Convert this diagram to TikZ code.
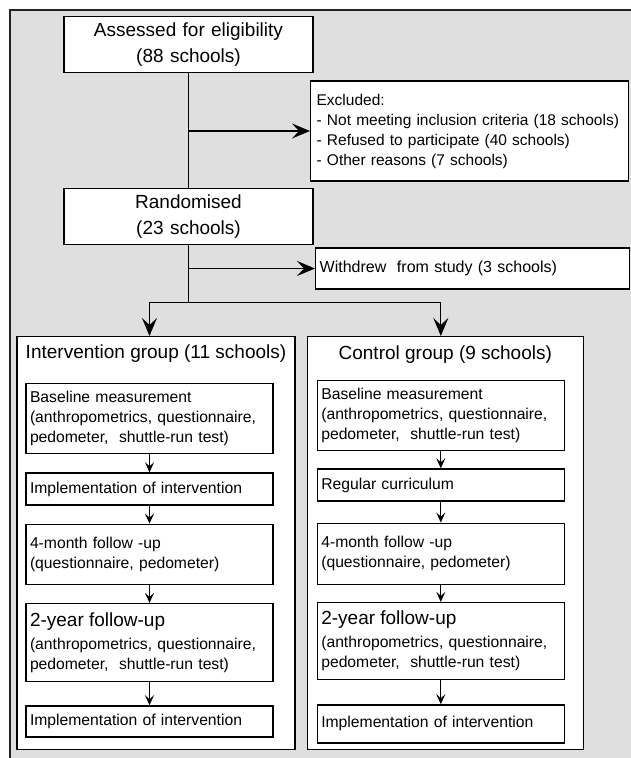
\documentclass[tikz,border=0pt]{standalone}
\usepackage{fontspec}
\setmainfont{Liberation Sans}
\usepackage{tikz}
\usetikzlibrary{arrows.meta,positioning}
\definecolor{fcPanel}{HTML}{DFDFDF}
\definecolor{fcEdge}{HTML}{222222}
\tikzset{
  flow box/.style={draw=black,line width=1.3pt,fill=white,align=center,inner xsep=4pt,inner ysep=2pt,
    text width=241pt,minimum height=56pt,font=\fontsize{19}{25.5}\selectfont},
  note box/.style={flow box,align=left,font=\fontsize{15.5}{20}\selectfont},
  group box/.style={draw=black,line width=1.3pt,fill=white,minimum height=413pt,inner sep=0pt},
  group title/.style={font=\fontsize{19}{23}\selectfont,inner sep=0pt},
  stage box/.style={flow box,align=left,text width=239pt,font=\fontsize{15.7}{20}\selectfont},
  main arrow/.style={-{Stealth[length=18pt,width=15pt,inset=7pt]},line width=1.3pt},
  stage arrow/.style={-{Stealth[length=10pt,width=9pt,inset=4pt]},line width=1.3pt}
}
\begin{document}
\begin{tikzpicture}[x=1pt,y=-1pt,node distance=18pt]
% grey panel
\useasboundingbox (0,0) rectangle (631,758);
\fill[fcPanel] (10,10) rectangle (631,758);
\draw[fcEdge,line width=1.6pt] (631,10) -- (10,10) -- (10,758);
% enrolment
\node[flow box] (assess) at (188.5,44.5) {Assessed for eligibility\\(88 schools)};
\node[flow box,below=115pt of assess] (rand) {Randomised\\(23 schools)};
\node[note box,text width=306pt,inner xsep=6pt,minimum height=100pt,anchor=west] (excl) at (310,131)
  {Excluded:\\- Not meeting inclusion criteria (18 schools)\\- Refused to participate (40 schools)\\- Other reasons (7 schools)};
\node[note box,text width=306pt,minimum height=41pt,font=\fontsize{16}{20}\selectfont,anchor=west] (withdrew) at (315,268.5)
  {Withdrew\ \ from study (3 schools)};
% allocation groups
\node[group box,minimum width=278pt,anchor=north] (igroup) at (156,336) {};
\node[group box,minimum width=276pt,right=11pt of igroup] (cgroup) {};
\node[group title] (ititle) at ([yshift=-18pt]igroup.north) {Intervention group (11 schools)};
\node[group title] (ctitle) at ([yshift=-19pt]cgroup.north) {Control group (9 schools)};
% intervention column
\node[stage box,minimum height=70pt,below=47pt of igroup.north,xshift=-6.5pt] (ibase) {Baseline measurement\\(anthropometrics, questionnaire,\\pedometer,\ \ shuttle-run test)};
\node[stage box,minimum height=32pt,below=of ibase] (iimpl) {Implementation of intervention};
\node[stage box,minimum height=60pt,below=of iimpl] (ifour) {4-month follow -up\\(questionnaire, pedometer)};
\node[stage box,minimum height=78pt,below=of ifour] (itwo) {{\fontsize{19}{20}\selectfont 2-year follow-up}\\[3pt](anthropometrics, questionnaire,\\pedometer,\ \ shuttle-run test)};
\node[stage box,minimum height=31pt,below=23pt of itwo] (ilast) {Implementation of intervention};
% control column
\node[stage box,minimum height=70pt,below=44pt of cgroup.north,xshift=-4.5pt] (cbase) {Baseline measurement\\(anthropometrics, questionnaire,\\pedometer,\ \ shuttle-run test)};
\node[stage box,minimum height=32pt,below=17pt of cbase] (creg) {Regular curriculum};
\node[stage box,minimum height=61pt,below=21pt of creg] (cfour) {4-month follow -up\\(questionnaire, pedometer)};
\node[stage box,minimum height=77pt,below=17pt of cfour] (ctwo) {{\fontsize{19}{20}\selectfont 2-year follow-up}\\[3pt](anthropometrics, questionnaire,\\pedometer,\ \ shuttle-run test)};
\node[stage box,minimum height=38pt,below=24pt of ctwo] (clast) {Implementation of intervention};
% connectors
\coordinate (exbranch) at (assess.south |- excl.west);
\coordinate[below=57pt of rand] (split);
\coordinate (wdbranch) at (rand.south |- withdrew.west);
\draw[line width=1.3pt] (assess) -- (rand);
\draw[main arrow] (exbranch) -- (excl);
\draw[line width=1.3pt] (rand) -- (split);
\draw[main arrow] (wdbranch) -- (withdrew);
\draw[main arrow] (split) -| (ibase |- igroup.north);
\draw[main arrow] (split) -| (cbase |- cgroup.north);
\draw[stage arrow] (ibase) -- (iimpl); \draw[stage arrow] (iimpl) -- (ifour);
\draw[stage arrow] (ifour) -- (itwo); \draw[stage arrow] (itwo) -- (ilast);
\draw[stage arrow] (cbase) -- (creg); \draw[stage arrow] (creg) -- (cfour);
\draw[stage arrow] (cfour) -- (ctwo); \draw[stage arrow] (ctwo) -- (clast);
\end{tikzpicture}
\end{document}
